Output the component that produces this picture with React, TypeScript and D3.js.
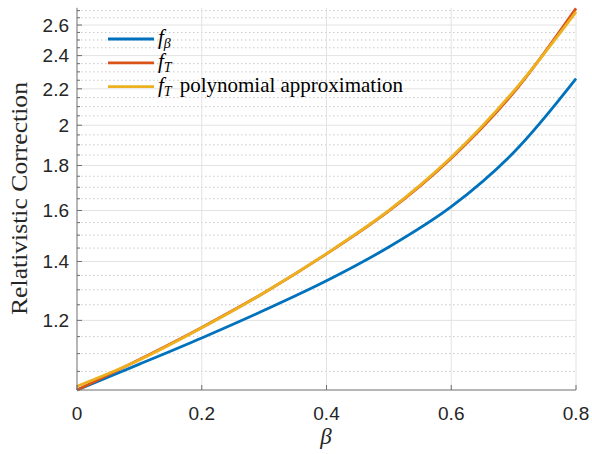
import React from 'react';
import * as d3 from 'd3';

// beta samples
const beta = [0, 0.1, 0.2, 0.3, 0.4, 0.5, 0.6, 0.7, 0.8];
const fBeta = [1.0, 1.07, 1.146, 1.232, 1.331, 1.454, 1.616, 1.862, 2.259];
const fT = [1.0, 1.083, 1.178, 1.29, 1.428, 1.598, 1.835, 2.179, 2.716];
const fTPoly = [1.01, 1.082, 1.177, 1.29, 1.429, 1.6, 1.839, 2.186, 2.691];

const xTicks = [0, 0.2, 0.4, 0.6, 0.8];
const xTickLabels = ['0', '0.2', '0.4', '0.6', '0.8'];
const yTicks = [1.2, 1.4, 1.6, 1.8, 2, 2.2, 2.4, 2.6];
const yTickLabels = ['1.2', '1.4', '1.6', '1.8', '2', '2.2', '2.4', '2.6'];

const series = [
    {name: 'fBeta', values: fBeta, color: '#0072BD'},
    {name: 'fT', values: fT, color: '#D95319'},
    {name: 'fTPoly', values: fTPoly, color: '#EDB120'}
];

const W = 592;
const H = 454;
const margin = {top: 7.8, right: 16, bottom: 64, left: 77};

const sansFont = '"Liberation Sans", Arial, Helvetica, sans-serif';
const serifFont = '"Liberation Serif", "Times New Roman", serif';

export default function App()
{
    const x = d3.scaleLinear().domain([0, 0.8]).range([margin.left, W - margin.right]);
    const y = d3.scaleLog().domain([1, 2.72]).range([H - margin.bottom, margin.top]);

    const minorTicks = d3.range(21, 55).filter(i => i % 4 !== 0).map(i => i * 0.05);

    const line = d3.line<number>()
        .x((d, i) => x(beta[i]))
        .y(d => y(d))
        .curve(d3.curveCatmullRom.alpha(0.5));

    const x0 = margin.left;
    const x1 = W - margin.right;
    const y0 = H - margin.bottom;
    const y1 = margin.top;

    const legendRows = [
        {color: '#0072BD', sub: 'β', extra: ''},
        {color: '#D95319', sub: 'T', extra: ''},
        {color: '#EDB120', sub: 'T', extra: 'polynomial approximation'}
    ];

    return (
        <svg width={W} height={H} style={{position: 'absolute', left: 0, top: 0, background: '#fff'}}>
            <rect x={0} y={0} width={W} height={H} fill="#fff"/>

            {/* minor grid */}
            {minorTicks.map((t, i) =>
                <line key={'mg' + i} x1={x0} x2={x1} y1={y(t)} y2={y(t)}
                      stroke="#c8c8c8" strokeWidth={1} strokeDasharray="1.5,2.5"/>
            )}
            {/* major grid */}
            {yTicks.map((t, i) =>
                <line key={'yg' + i} x1={x0} x2={x1} y1={y(t)} y2={y(t)} stroke="#e3e3e3" strokeWidth={1}/>
            )}
            {xTicks.slice(1).map((t, i) =>
                <line key={'xg' + i} x1={x(t)} x2={x(t)} y1={y0} y2={y1} stroke="#e3e3e3" strokeWidth={1}/>
            )}

            {/* curves */}
            {series.map(s =>
                <path key={s.name} d={line(s.values) || ''} fill="none" stroke={s.color} strokeWidth={2.8}
                      strokeLinejoin="round"/>
            )}

            {/* axes */}
            <line x1={x0} x2={x0} y1={y0} y2={y1} stroke="#6e6e6e" strokeWidth={1}/>
            <line x1={x0} x2={x1} y1={y0} y2={y0} stroke="#6e6e6e" strokeWidth={1}/>
            {yTicks.map((t, i) =>
                <line key={'yt' + i} x1={x0} x2={x0 + 5} y1={y(t)} y2={y(t)} stroke="#6e6e6e"/>
            )}
            {minorTicks.map((t, i) =>
                <line key={'ymt' + i} x1={x0} x2={x0 + 3} y1={y(t)} y2={y(t)} stroke="#6e6e6e"/>
            )}
            {xTicks.map((t, i) =>
                <line key={'xt' + i} x1={x(t)} x2={x(t)} y1={y0} y2={y0 - 5} stroke="#6e6e6e"/>
            )}

            {/* tick labels */}
            {yTicks.map((t, i) =>
                <text key={'yl' + i} x={69} y={y(t)} dy="0.36em" textAnchor="end"
                      fontFamily={sansFont} fontSize={19} fill="#262626">{yTickLabels[i]}</text>
            )}
            {xTicks.map((t, i) =>
                <text key={'xl' + i} x={x(t)} y={420} textAnchor="middle"
                      fontFamily={sansFont} fontSize={19} fill="#262626">{xTickLabels[i]}</text>
            )}

            {/* axis labels */}
            <text x={326} y={444} textAnchor="middle" fontFamily={serifFont} fontStyle="italic"
                  fontSize={23} fill="#262626">β</text>
            <text transform="translate(27,198.5) rotate(-90)" textAnchor="middle" fontFamily={serifFont}
                  fontSize={23} fill="#262626" textLength={233} lengthAdjust="spacingAndGlyphs">
                Relativistic Correction
            </text>

            {/* legend */}
            {legendRows.map((r, i) =>
            {
                const ly = 39 + i * 23.8;
                return (
                    <g key={'lg' + i}>
                        <line x1={108} x2={154} y1={ly} y2={ly} stroke={r.color} strokeWidth={2.8}/>
                        <text x={158} y={ly + 5} fontFamily={serifFont} fontSize={21} fill="#000">
                            <tspan fontStyle="italic">f</tspan>
                            <tspan fontStyle="italic" fontSize={14} dy={4}>{r.sub}</tspan>
                            {r.extra && <tspan dy={-4} dx={8}>{r.extra}</tspan>}
                        </text>
                    </g>
                );
            })}
        </svg>
    );
}
